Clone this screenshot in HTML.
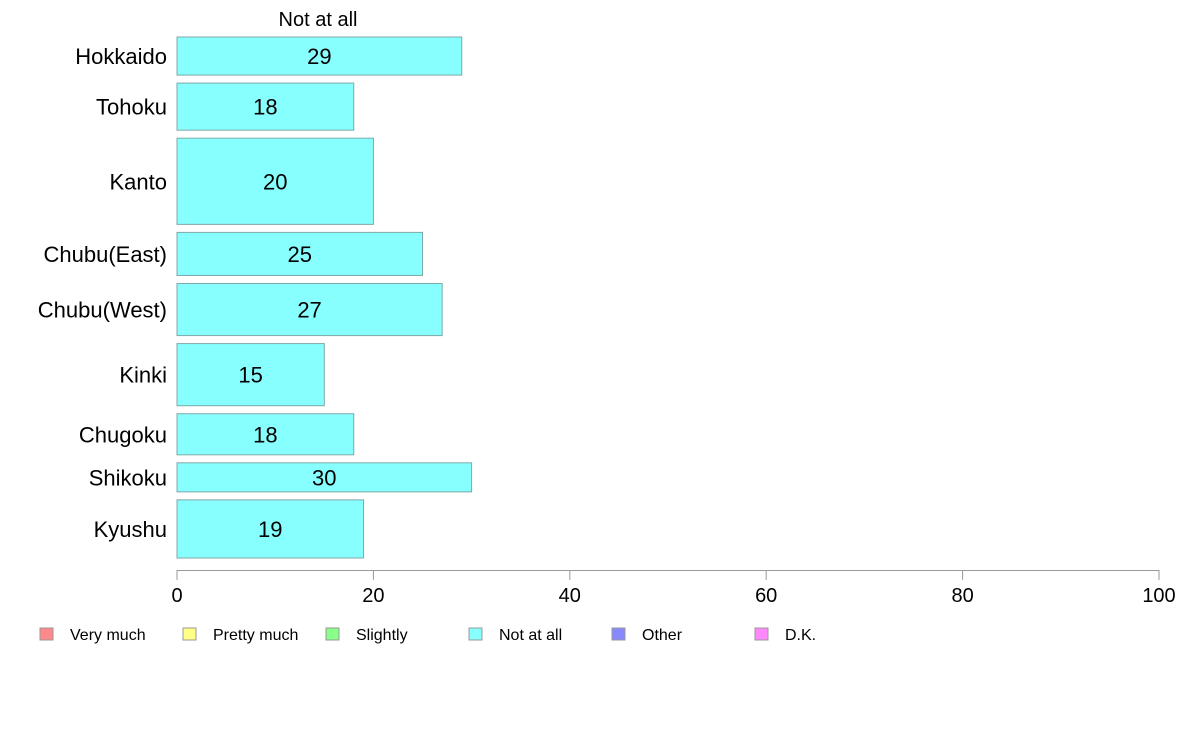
<!DOCTYPE html>
<html><head><meta charset="utf-8"><style>
body{margin:0;background:#fff;}
svg{display:block;font-family:"Liberation Sans",Arial,sans-serif;}
</style></head><body>
<svg id="chart" width="1188" height="736" viewBox="0 0 1188 736"></svg>
<script>
const regions=["Hokkaido","Tohoku","Kanto","Chubu(East)","Chubu(West)","Kinki","Chugoku","Shikoku","Kyushu"];
const values=[29,18,20,25,27,15,18,30,19];
const weights=[38,47,86,43,52,62,41,29,58];
const ticks=[0,20,40,60,80,100];
const legendLabels=["Very much","Pretty much","Slightly","Not at all","Other","D.K."];
const legendColors=["#ff8888","#ffff88","#88ff88","#88ffff","#8888ff","#ff88ff"];

const svg=document.getElementById('chart');
const NS="http://www.w3.org/2000/svg";
function mk(t,a,txt){const e=document.createElementNS(NS,t);for(const k in a)e.setAttribute(k,a[k]);if(txt!==undefined)e.textContent=txt;svg.appendChild(e);return e;}
const x0=177,x1=1159,yTop=37,yBottom=558,gap=8;
const xs=v=>x0+(v-0)/(100-0)*(x1-x0);
const totalW=weights.reduce((a,b)=>a+b,0);
const unit=(yBottom-yTop-gap*(weights.length-1))/totalW;

const title=mk('text',{x:318,y:26,'font-size':20,'text-anchor':'middle',fill:'#000'},"Not at all");



let y=yTop;
regions.forEach((r,i)=>{
  const h=weights[i]*unit;
  const rect=mk('rect',{x:x0,y:y,width:xs(values[i])-x0,height:h,fill:'#88ffff',stroke:'#7fa8a8','stroke-width':1});
  
  
  const vl=mk('text',{x:(x0+xs(values[i]))/2,y:y+h/2+8,'font-size':22,'text-anchor':'middle',fill:'#000'},String(values[i]));
  
  
  const cl=mk('text',{x:167,y:y+h/2+8,'font-size':22,'text-anchor':'end',fill:'#000'},r);
  
  
  y+=h+gap;
});

const ax=mk('line',{x1:x0,x2:x1,y1:570.5,y2:570.5,stroke:'#999','stroke-width':1});


ticks.forEach(t=>{
  const tl=mk('line',{x1:xs(t),x2:xs(t),y1:570,y2:580,stroke:'#999','stroke-width':1});
  
  
  const tx=mk('text',{x:xs(t),y:602,'font-size':20,'text-anchor':'middle',fill:'#000'},String(t));
  
  
});

legendLabels.forEach((l,i)=>{
  const lx=40+i*143;
  const b=mk('rect',{x:lx,y:628,width:13,height:12,fill:legendColors[i],stroke:'#999','stroke-width':1});
  
  
  const t=mk('text',{x:lx+30,y:640,'font-size':16,fill:'#000'},l);
  
  
});
</script>
</body></html>
